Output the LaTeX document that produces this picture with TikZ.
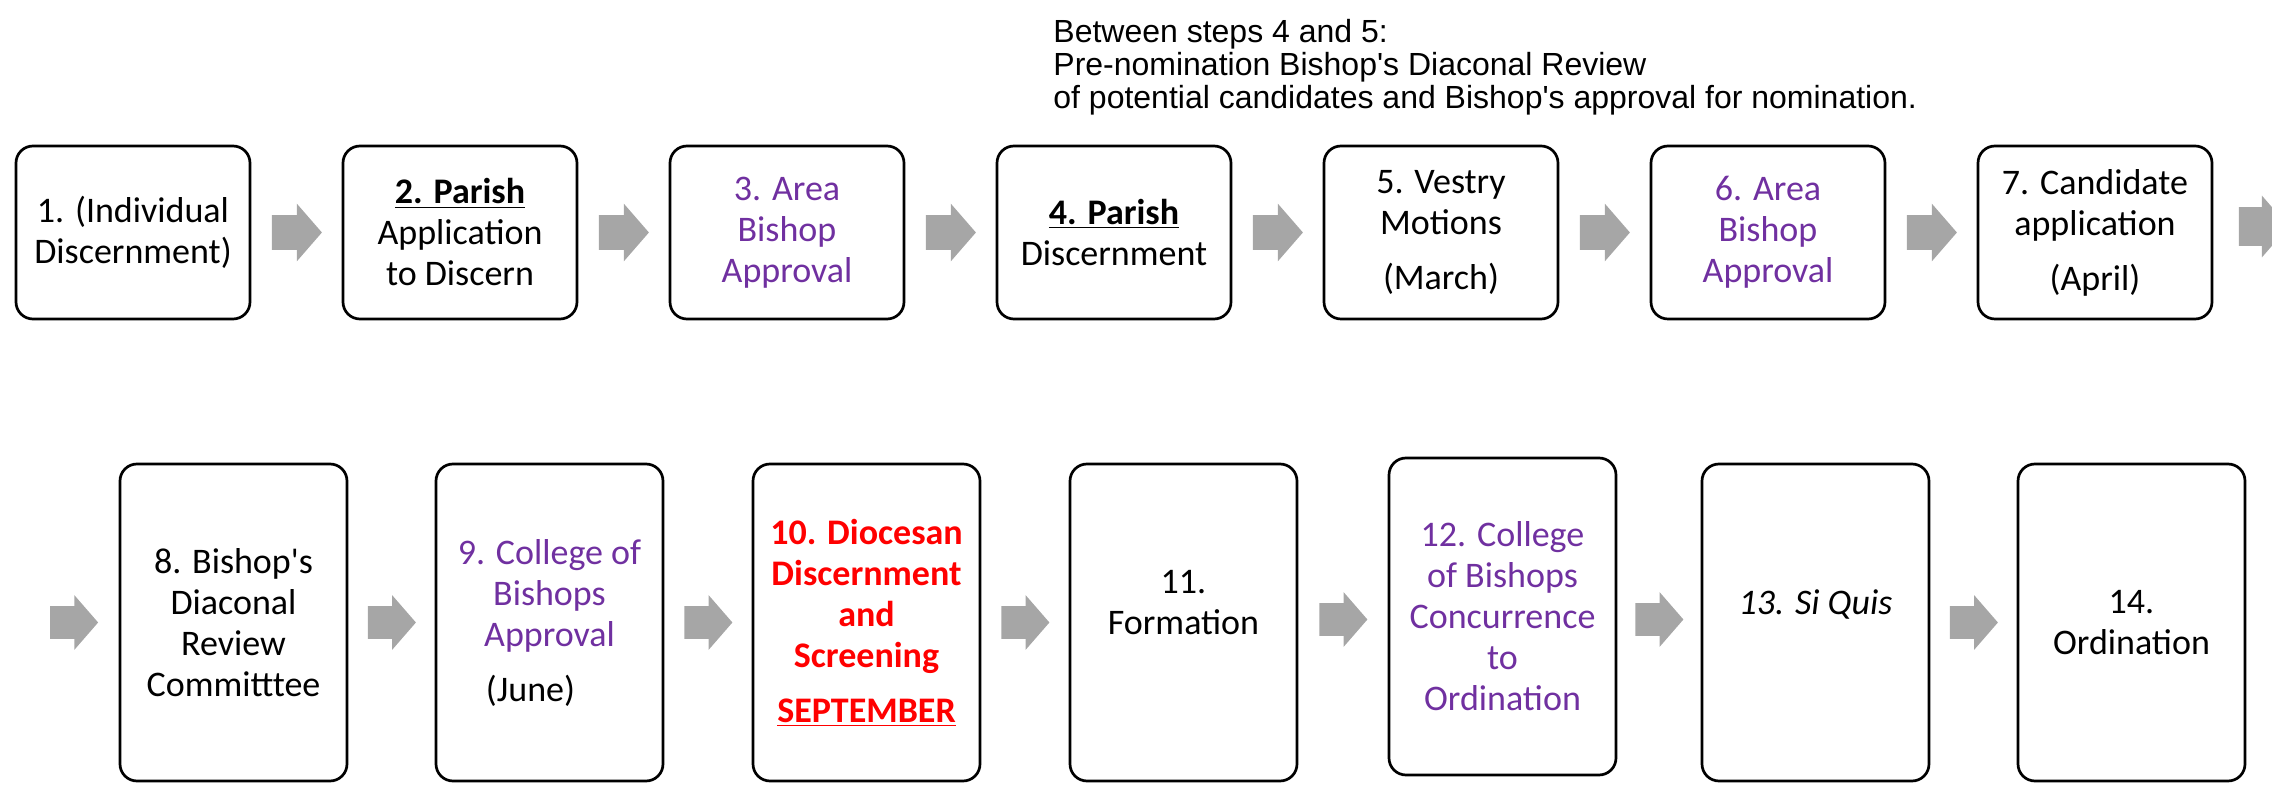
\documentclass[tikz,border=0pt]{standalone}
\usepackage{fontspec}
\newfontfamily\boxfont{Carlito}
\newfontfamily\notefont{Liberation Sans}
\usetikzlibrary{shapes.arrows,calc}

\definecolor{bishoppurple}{HTML}{7030A0}
\definecolor{arrowgray}{HTML}{A6A6A6}

\tikzset{
  stepbox/.style={draw, line width=1.35pt, rounded corners=8.5pt, align=center, inner sep=2pt,
    font=\boxfont\fontsize{18}{20.5}\selectfont},
  toprow/.style={stepbox, minimum width=117pt, minimum height=86.5pt},
  bottomrow/.style={stepbox, minimum width=113.5pt, minimum height=158.5pt},
  flowarrow/.style={single arrow, fill=arrowgray, draw=none, inner xsep=0pt, inner ysep=8.5pt,
    minimum height=25pt, single arrow head extend=5.75pt, single arrow tip angle=98,
    anchor=tail, xshift=-12.5pt},
  lowarrow/.style={flowarrow, inner ysep=8pt, minimum height=24pt, single arrow head extend=5.5pt,
    xshift=0.5pt}
}

\begin{document}
\begin{tikzpicture}[x=0.5pt, y=-0.5pt]
\useasboundingbox (0,0) rectangle (2272,785);

% note above the first row
\node[font=\notefont\fontsize{16}{16.5}\selectfont, align=left, anchor=north west, inner sep=0pt]
  (note) at (1053,19) {Between steps 4 and 5:\\Pre-nomination Bishop's Diaconal Review\\of potential candidates and Bishop's approval for nomination.};

% first row
\node[toprow] (s1) at (133,232.5) {1. (Individual\\Discernment)};
\node[toprow] (s2) at (460,232.5) {\underline{\textbf{2. Parish}}\\Application\\to Discern};
\node[toprow, text=bishoppurple] (s3) at (787,232.5) {3. Area\\Bishop\\Approval};
\node[toprow] (s4) at (1114,232.5) {\underline{\textbf{4. Parish}}\\Discernment};
\node[toprow] (s5) at (1441,232.5) {5. Vestry\\Motions\\[7pt](March)};
\node[toprow, text=bishoppurple] (s6) at (1768,232.5) {6. Area\\Bishop\\Approval};
\node[toprow] (s7) at (2095,232.5) {7. Candidate\\application\\[7pt](April)};

% second row
\node[bottomrow] (s8) at (233.5,622.5) {8. Bishop's\\Diaconal\\Review\\Committtee};
\node[bottomrow, text=bishoppurple] (s9) at (549.5,622.5) {9. College of\\Bishops\\Approval\\[7pt]\hspace*{-19pt}{\color{black}(June)}};
\node[bottomrow, text=red, font=\boxfont\fontsize{18}{20.5}\selectfont\bfseries] (s10) at (866.5,622.5)
  {10. Diocesan\\Discernment\\and\\Screening\\[7pt]\underline{SEPTEMBER}};
\node[bottomrow] (s11) at (1183.5,622.5) {11.\\Formation\\\mbox{}};
\node[bottomrow, text=bishoppurple] (s12) at (1502.5,616.5) {12. College\\of Bishops\\Concurrence\\to\\Ordination};
\node[bottomrow] (s13) at (1815.5,622.5) {\textit{13. Si Quis}\\\mbox{}};
\node[bottomrow] (s14) at (2131.5,622.5) {14.\\Ordination};

% block arrows
\node[flowarrow] (a12) at ($(s1.east)!0.5!(s2.west)$) {};
\node[flowarrow] (a23) at ($(s2.east)!0.5!(s3.west)$) {};
\node[flowarrow] (a34) at ($(s3.east)!0.5!(s4.west)$) {};
\node[flowarrow] (a45) at ($(s4.east)!0.5!(s5.west)$) {};
\node[flowarrow] (a56) at ($(s5.east)!0.5!(s6.west)$) {};
\node[flowarrow] (a67) at ($(s6.east)!0.5!(s7.west)$) {};
\node[flowarrow, inner ysep=9.5pt, xshift=12.5pt] (a78) at ([xshift=12.5pt, yshift=3pt]s7.east) {};

\node[lowarrow, anchor=tip, xshift=12pt] (a08) at ([xshift=-10pt]s8.west) {};
\node[lowarrow] (a89) at ($(s8.east)!0.5!(s9.west)$) {};
\node[lowarrow] (a910) at ($(s9.east)!0.5!(s10.west)$) {};
\node[lowarrow] (a1011) at ($(s10.east)!0.5!(s11.west)$) {};
\node[lowarrow] (a1112) at ($(s11.east)!0.5!(s12.west)$) {};
\node[lowarrow] (a1213) at ($(s12.east)!0.5!(s13.west)$) {};
\node[lowarrow] (a1314) at ($(s13.east)!0.5!(s14.west)$) {};
\end{tikzpicture}
\end{document}
